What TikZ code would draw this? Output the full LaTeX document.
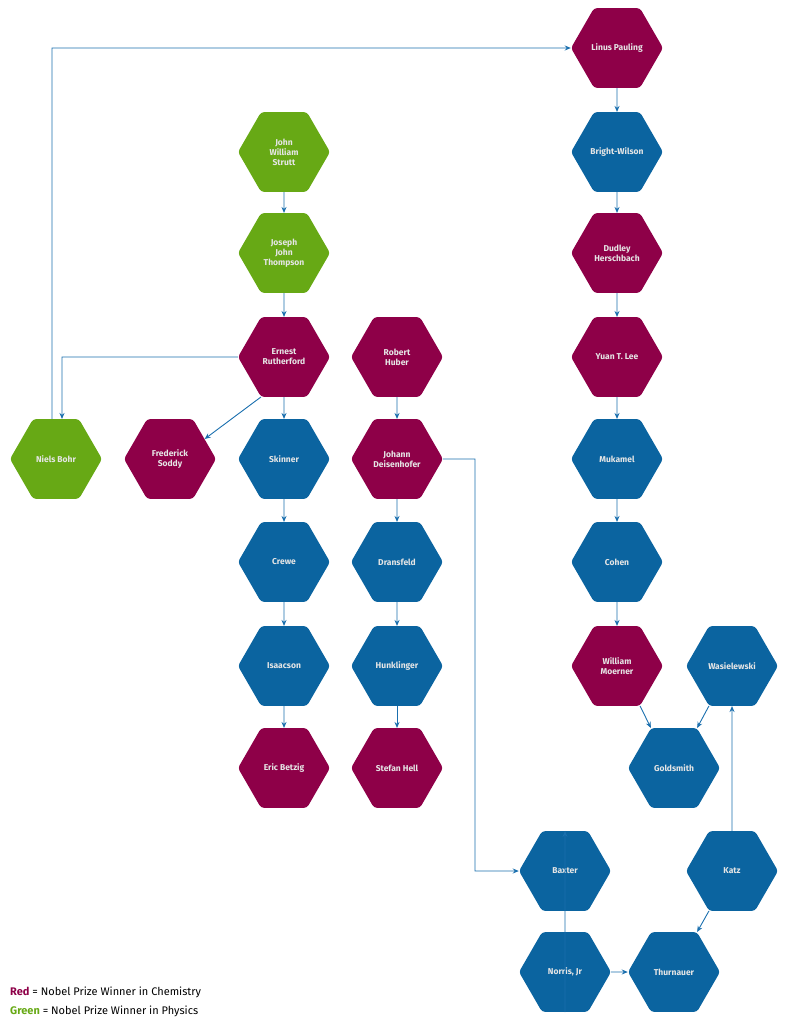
\documentclass[tikz,border=0pt]{standalone}
\usepackage{fontspec}
\setmainfont{Fira Sans}
\usetikzlibrary{shapes.geometric,arrows.meta}
\definecolor{cred}{HTML}{8E0048}
\definecolor{cblue}{HTML}{0B64A0}
\definecolor{cgreen}{HTML}{67A915}
\definecolor{ctext}{HTML}{E6E6E6}
\definecolor{cline}{HTML}{1A6FAE}
\tikzset{
 hex/.style={regular polygon,regular polygon sides=6,minimum size=92pt,inner sep=0pt,
   text=ctext,font=\fontsize{8.5}{10}\selectfont\bfseries,align=center,rounded corners=3pt},
 hr/.style={hex,fill=cred},hb/.style={hex,fill=cblue},hg/.style={hex,fill=cgreen},
 con/.style={draw=cline,line width=0.9pt,-{Stealth[length=6pt,width=5pt]}}
}
\begin{document}
\begin{tikzpicture}[x=1pt,y=-1pt]
\useasboundingbox (0,0) rectangle (785,1024);
\node[hr] (lp) at (617,48) {Linus Pauling};
\node[hb] (bw) at (617,152) {Bright-Wilson};
\node[hr] (dh) at (617,253) {Dudley\\Herschbach};
\node[hr] (yl) at (617,357) {Yuan T. Lee};
\node[hb] (mu) at (617,459) {Mukamel};
\node[hb] (co) at (617,562) {Cohen};
\node[hr] (wm) at (617,666) {William\\Moerner};
\node[hb] (wa) at (732,666) {Wasielewski};
\node[hb] (gs) at (674,768) {Goldsmith};
\node[hb] (ba) at (565,871) {Baxter};
\node[hb] (ka) at (732,871) {Katz};
\node[hb] (no) at (565,972) {Norris, Jr};
\node[hb] (th) at (674,972) {Thurnauer};
\node[hg] (js) at (284,152) {John\\William\\Strutt};
\node[hg] (jt) at (284,253) {Joseph\\John\\Thompson};
\node[hr] (er) at (284,357) {Ernest\\Rutherford};
\node[hr] (rh) at (397,357) {Robert\\Huber};
\node[hg] (nb) at (56,459) {Niels Bohr};
\node[hr] (fs) at (170,459) {Frederick\\Soddy};
\node[hb] (sk) at (284,459) {Skinner};
\node[hr] (jd) at (397,459) {Johann\\Deisenhofer};
\node[hb] (cr) at (284,562) {Crewe};
\node[hb] (dr) at (397,562) {Dransfeld};
\node[hb] (is) at (284,666) {Isaacson};
\node[hb] (hu) at (397,666) {Hunklinger};
\node[hr] (eb) at (284,768) {Eric Betzig};
\node[hr] (sh) at (397,768) {Stefan Hell};
\foreach \a/\b in {lp/bw,bw/dh,dh/yl,yl/mu,mu/co,co/wm,js/jt,jt/er,er/sk,sk/cr,cr/is,is/eb,rh/jd,jd/dr,dr/hu,hu/sh,no/ba}
  \draw[con] (\a.south) -- (\b.north);
\coordinate (c1) at (52,48);
\draw[con] (nb.north -| c1) -- (c1) -- (lp.west);
\coordinate (c2) at (62,357);
\draw[con] (er.west) -- (c2) -- (nb.north -| c2);
\draw[con] (er.240) -- (fs.30);
\coordinate (c3) at (475,459);
\coordinate (c4) at (475,871);
\draw[con] (jd.east) -- (c3) -- (c4) -- (ba.west);
\draw[con] (wm.300) -- (gs.120);
\draw[con] (wa.240) -- (gs.60);
\draw[con] (ka.north) -- (wa.south);
\draw[con] (ka.240) -- (th.60);
\draw[con] (no.east) -- (th.west);
\node[anchor=west,font=\fontsize{11}{13}\selectfont,inner sep=0pt] (l1) at (10,992) {\textcolor{cred}{\bfseries Red} = Nobel Prize Winner in Chemistry};
\node[anchor=west,font=\fontsize{11}{13}\selectfont,inner sep=0pt] (l2) at (10,1011) {\textcolor{cgreen}{\bfseries Green} = Nobel Prize Winner in Physics};
\end{tikzpicture}
\end{document}
